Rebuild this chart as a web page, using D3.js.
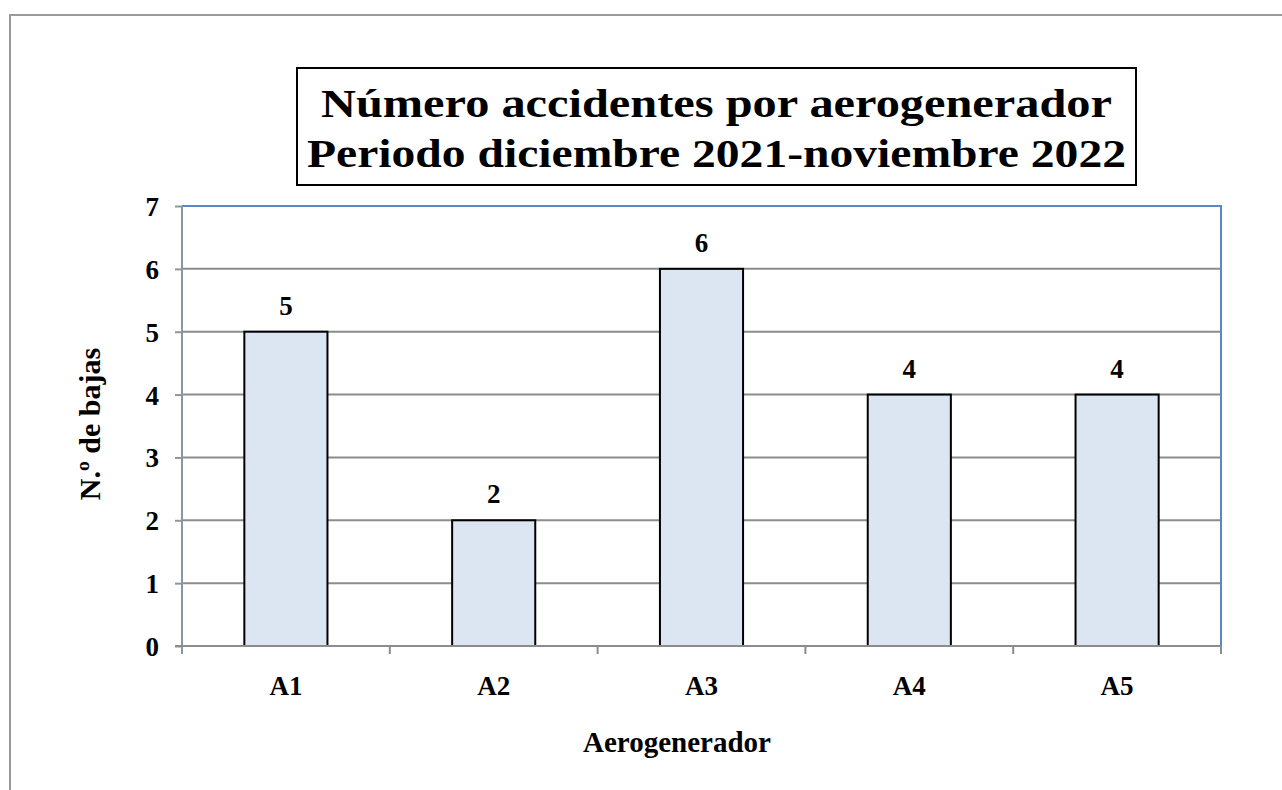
<!DOCTYPE html>
<html>
<head>
<meta charset="utf-8">
<script src="https://cdn.jsdelivr.net/npm/d3@7"></script>
<style>
  body { margin: 0; background: #fff; }
  svg text { font-family: "Liberation Serif", "Times New Roman", serif; font-weight: bold; fill: #000; }
</style>
</head>
<body>
<svg id="chart" width="1282" height="790"></svg>
<script>
// data
const categories = ['A1', 'A2', 'A3', 'A4', 'A5'];
const values = [5, 2, 6, 4, 4];
const y_ticks = [0, 1, 2, 3, 4, 5, 6, 7];
const title_lines = ['Número accidentes por aerogenerador', 'Periodo diciembre 2021-noviembre 2022'];

const svg = d3.select('#chart');
const plot = { left: 182, top: 206, right: 1221, bottom: 646 };

// outer chart frame (runs off the page on right and bottom)
svg.append('rect')
  .attr('x', 10).attr('y', 15)
  .attr('width', 1290).attr('height', 800)
  .attr('fill', 'none')
  .attr('stroke', '#9a9a9a')
  .attr('stroke-width', 2);

const x = d3.scaleBand()
  .domain(categories)
  .range([plot.left, plot.right])
  .paddingInner(0.6)
  .paddingOuter(0.3);

const x_outer = d3.scaleBand()
  .domain(categories)
  .range([plot.left, plot.right]);

const y = d3.scaleLinear()
  .domain([0, 7])
  .range([plot.bottom, plot.top]);

// gridlines
svg.append('g')
  .selectAll('line')
  .data(y_ticks.filter(d => d > 0 && d < 7))
  .join('line')
  .attr('x1', plot.left).attr('x2', plot.right)
  .attr('y1', d => y(d)).attr('y2', d => y(d))
  .attr('stroke', '#8c8c8c')
  .attr('stroke-width', 2);

// plot border: top and right in blue
svg.append('path')
  .attr('d', `M${plot.left},${plot.top}H${plot.right}V${plot.bottom}`)
  .attr('fill', 'none')
  .attr('stroke', '#5b87c5')
  .attr('stroke-width', 2);

// bars
svg.append('g')
  .selectAll('rect')
  .data(values)
  .join('rect')
  .attr('x', (d, i) => x(categories[i]))
  .attr('y', d => y(d))
  .attr('width', x.bandwidth())
  .attr('height', d => y(0) - y(d))
  .attr('fill', '#dce6f2')
  .attr('stroke', '#000')
  .attr('stroke-width', 2);

// value labels
svg.append('g')
  .selectAll('text')
  .data(values)
  .join('text')
  .attr('x', (d, i) => x(categories[i]) + x.bandwidth() / 2)
  .attr('y', d => y(d) - 17)
  .attr('text-anchor', 'middle')
  .attr('font-size', '27px')
  .text(d => d);

// y axis
const y_axis = svg.append('g')
  .attr('transform', `translate(${plot.left},0)`)
  .call(d3.axisLeft(y).tickValues(y_ticks).tickSize(7).tickPadding(16).tickFormat(d3.format('d')));
y_axis.attr('font-size', null).attr('font-family', null);
y_axis.selectAll('line, path').attr('stroke', '#8c96a0').attr('stroke-width', 2);
y_axis.select('.domain').attr('d', `M0,${plot.top}V${plot.bottom + 8}`);
y_axis.selectAll('text')
  .attr('font-size', '27px')
  .attr('dy', '0.35em');

// x axis
const x_axis = svg.append('g')
  .attr('transform', `translate(0,${plot.bottom})`);
x_axis.append('line')
  .attr('x1', plot.left - 7).attr('x2', plot.right)
  .attr('stroke', '#8c8c8c').attr('stroke-width', 2);
x_axis.selectAll('line.tick')
  .data(categories)
  .join('line')
  .attr('class', 'tick')
  .attr('x1', d => x_outer(d) + x_outer.bandwidth()).attr('x2', d => x_outer(d) + x_outer.bandwidth())
  .attr('y1', 0).attr('y2', 8)
  .attr('stroke', '#8c8c8c').attr('stroke-width', 2);
x_axis.selectAll('text')
  .data(categories)
  .join('text')
  .attr('x', d => x(d) + x.bandwidth() / 2)
  .attr('y', 49)
  .attr('text-anchor', 'middle')
  .attr('font-size', '27px')
  .text(d => d);

// axis titles
svg.append('text')
  .attr('x', 677)
  .attr('y', 752)
  .attr('text-anchor', 'middle')
  .attr('font-size', '29px')
  .text('Aerogenerador');

svg.append('text')
  .attr('transform', `translate(100,${(plot.top + plot.bottom) / 2 - 2}) rotate(-90)`)
  .attr('text-anchor', 'middle')
  .attr('font-size', '30px')
  .text('N.º de bajas');

// title box
const title_box = { x: 297, y: 68, w: 839, h: 117 };
const title_widths = [791, 819];
svg.append('rect')
  .attr('x', title_box.x).attr('y', title_box.y)
  .attr('width', title_box.w).attr('height', title_box.h)
  .attr('fill', '#fff')
  .attr('stroke', '#000')
  .attr('stroke-width', 2);

svg.append('g')
  .selectAll('text')
  .data(title_lines)
  .join('text')
  .attr('x', title_box.x + title_box.w / 2)
  .attr('y', (d, i) => 117 + i * 50)
  .attr('text-anchor', 'middle')
  .attr('font-size', '41px')
  .attr('textLength', (d, i) => title_widths[i])
  .attr('lengthAdjust', 'spacingAndGlyphs')
  .text(d => d);
</script>
</body>
</html>
